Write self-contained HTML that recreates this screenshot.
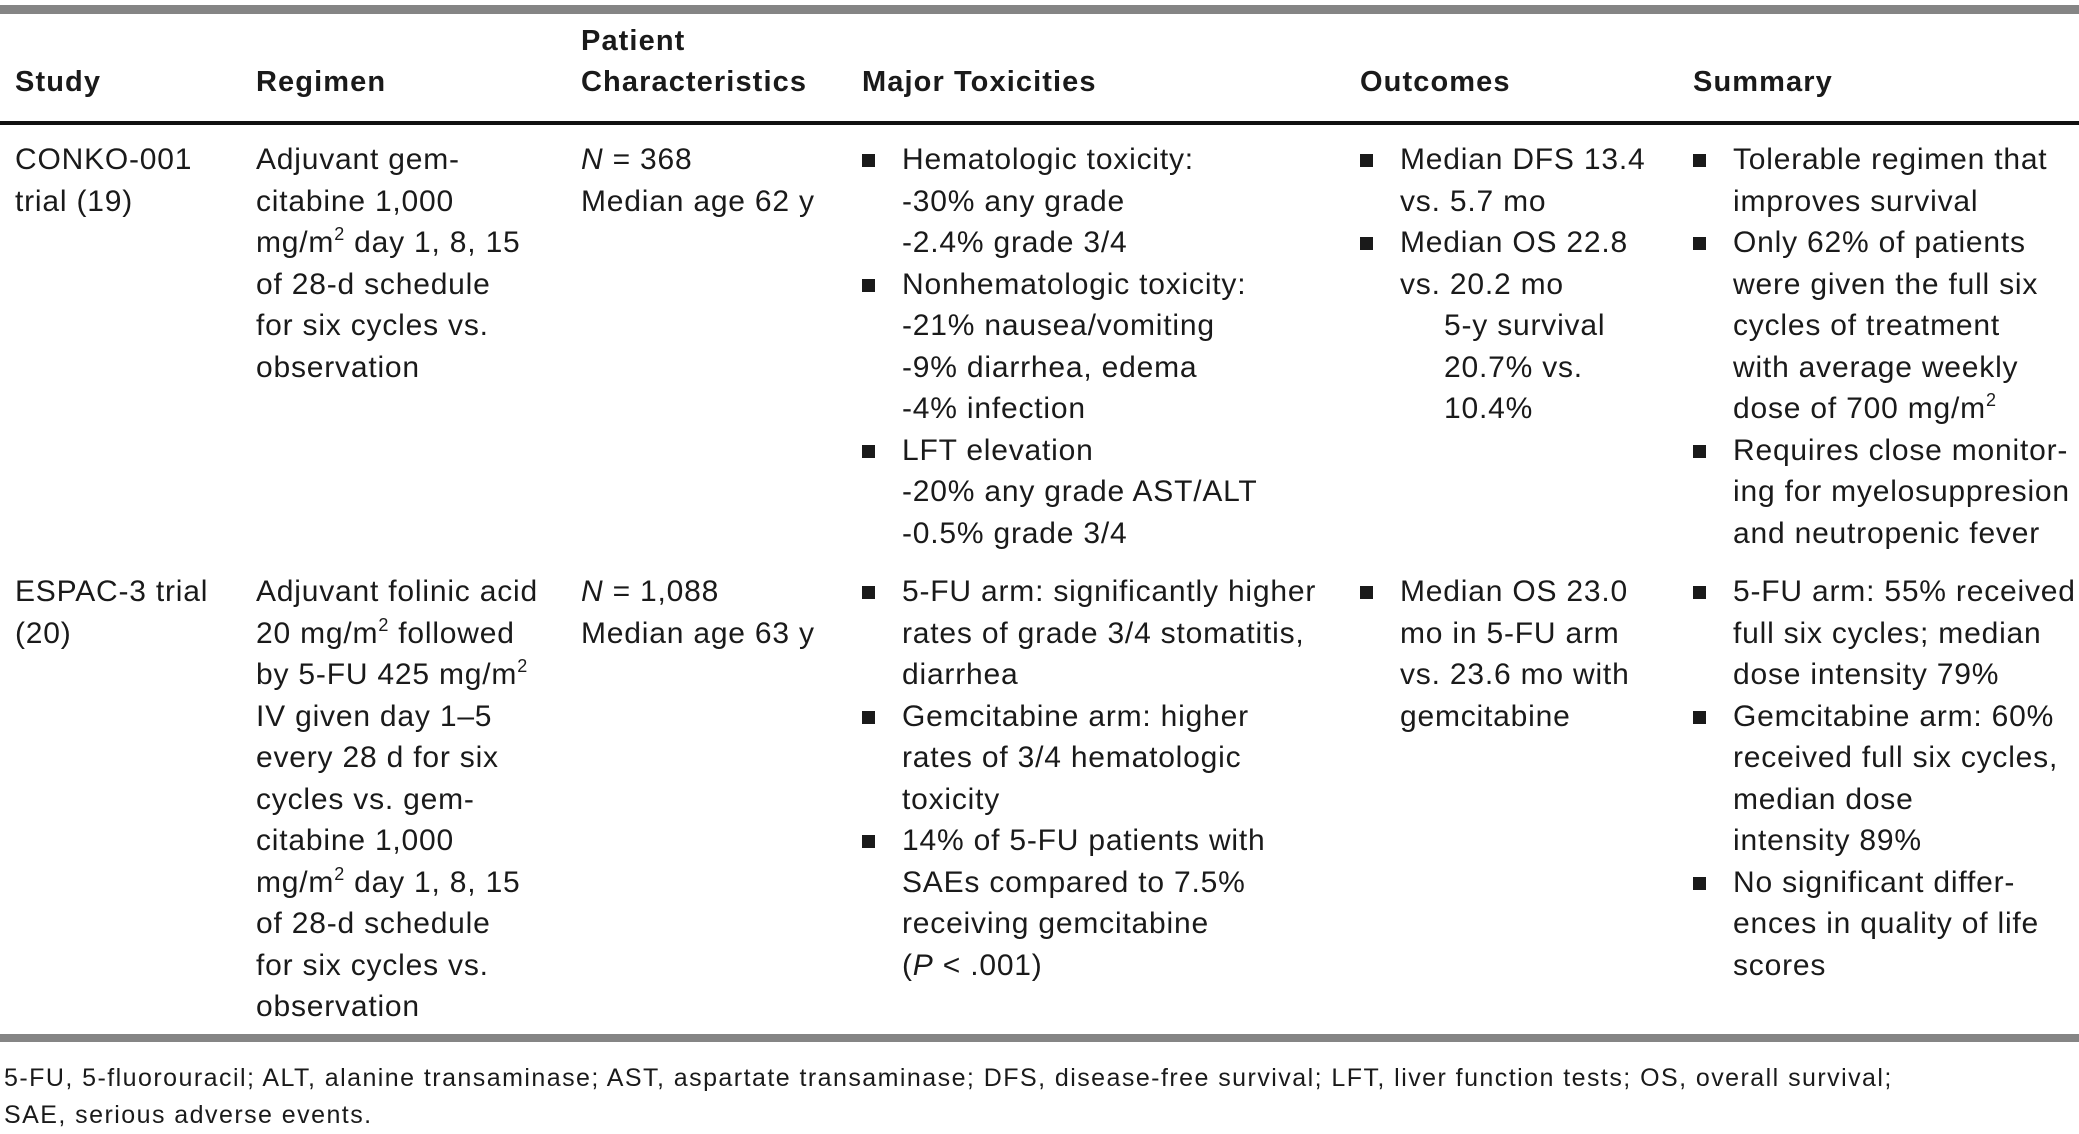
<!DOCTYPE html>
<html><head><meta charset="utf-8"><style>
html,body{margin:0;padding:0;background:#fff;}
body{width:2079px;height:1131px;position:relative;overflow:hidden;font-family:"Liberation Sans",sans-serif;color:#1a1a1a;}
.bar{position:absolute;left:0;width:2079px;background:#858585;}
.col{position:absolute;font-size:30px;line-height:41.5px;white-space:nowrap;letter-spacing:0.8px;}
.h{position:absolute;font-weight:bold;font-size:29px;line-height:41px;white-space:nowrap;letter-spacing:1.1px;}
.b{position:relative;}
.b::before{content:"";position:absolute;left:-40px;top:15px;width:13px;height:13px;background:#1a1a1a;}
sup{font-size:18px;line-height:0;vertical-align:12px;}
.fn{position:absolute;left:4px;font-size:25px;line-height:37px;white-space:nowrap;letter-spacing:1.45px;}
</style></head><body>
<div class="bar" style="top:5px;height:9px"></div>
<div class="bar" style="top:121px;height:4px;background:#111"></div>
<div class="bar" style="top:1034px;height:8px"></div>

<div class="h" style="left:581px;top:21px">Patient</div>
<div class="h" style="left:15px;top:62px">Study</div>
<div class="h" style="left:256px;top:62px">Regimen</div>
<div class="h" style="left:581px;top:62px">Characteristics</div>
<div class="h" style="left:862px;top:62px">Major Toxicities</div>
<div class="h" style="left:1360px;top:62px">Outcomes</div>
<div class="h" style="left:1693px;top:62px">Summary</div>

<div class="col" style="left:15px;top:139px">CONKO-001<br>trial (19)</div>
<div class="col" style="left:256px;top:139px">Adjuvant gem-<br>citabine 1,000<br>mg/m<sup>2</sup> day 1, 8, 15<br>of 28-d schedule<br>for six cycles vs.<br>observation</div>
<div class="col" style="left:581px;top:139px"><i>N</i> = 368<br>Median age 62 y</div>
<div class="col" style="left:902px;top:139px"><div class="b">Hematologic toxicity:</div>-30% any grade<br>-2.4% grade 3/4<div class="b">Nonhematologic toxicity:</div>-21% nausea/vomiting<br>-9% diarrhea, edema<br>-4% infection<div class="b">LFT elevation</div>-20% any grade AST/ALT<br>-0.5% grade 3/4</div>
<div class="col" style="left:1400px;top:139px"><div class="b">Median DFS 13.4</div>vs. 5.7 mo<div class="b">Median OS 22.8</div>vs. 20.2 mo<br><span style="padding-left:44px">5-y survival</span><br><span style="padding-left:44px">20.7% vs.</span><br><span style="padding-left:44px">10.4%</span></div>
<div class="col" style="left:1733px;top:139px"><div class="b">Tolerable regimen that</div>improves survival<div class="b">Only 62% of patients</div>were given the full six<br>cycles of treatment<br>with average weekly<br>dose of 700 mg/m<sup>2</sup><div class="b">Requires close monitor-</div>ing for myelosuppresion<br>and neutropenic fever</div>

<div class="col" style="left:15px;top:571px">ESPAC-3 trial<br>(20)</div>
<div class="col" style="left:256px;top:571px">Adjuvant folinic acid<br>20 mg/m<sup>2</sup> followed<br>by 5-FU 425 mg/m<sup>2</sup><br>IV given day 1–5<br>every 28 d for six<br>cycles vs. gem-<br>citabine 1,000<br>mg/m<sup>2</sup> day 1, 8, 15<br>of 28-d schedule<br>for six cycles vs.<br>observation</div>
<div class="col" style="left:581px;top:571px"><i>N</i> = 1,088<br>Median age 63 y</div>
<div class="col" style="left:902px;top:571px"><div class="b">5-FU arm: significantly higher</div>rates of grade 3/4 stomatitis,<br>diarrhea<div class="b">Gemcitabine arm: higher</div>rates of 3/4 hematologic<br>toxicity<div class="b">14% of 5-FU patients with</div>SAEs compared to 7.5%<br>receiving gemcitabine<br>(<i>P</i> &lt; .001)</div>
<div class="col" style="left:1400px;top:571px"><div class="b">Median OS 23.0</div>mo in 5-FU arm<br>vs. 23.6 mo with<br>gemcitabine</div>
<div class="col" style="left:1733px;top:571px"><div class="b">5-FU arm: 55% received</div>full six cycles; median<br>dose intensity 79%<div class="b">Gemcitabine arm: 60%</div>received full six cycles,<br>median dose<br>intensity 89%<div class="b">No significant differ-</div>ences in quality of life<br>scores</div>

<div class="fn" style="top:1060px">5-FU, 5-fluorouracil; ALT, alanine transaminase; AST, aspartate transaminase; DFS, disease-free survival; LFT, liver function tests; OS, overall survival;</div>
<div class="fn" style="top:1097px">SAE, serious adverse events.</div>
</body></html>
